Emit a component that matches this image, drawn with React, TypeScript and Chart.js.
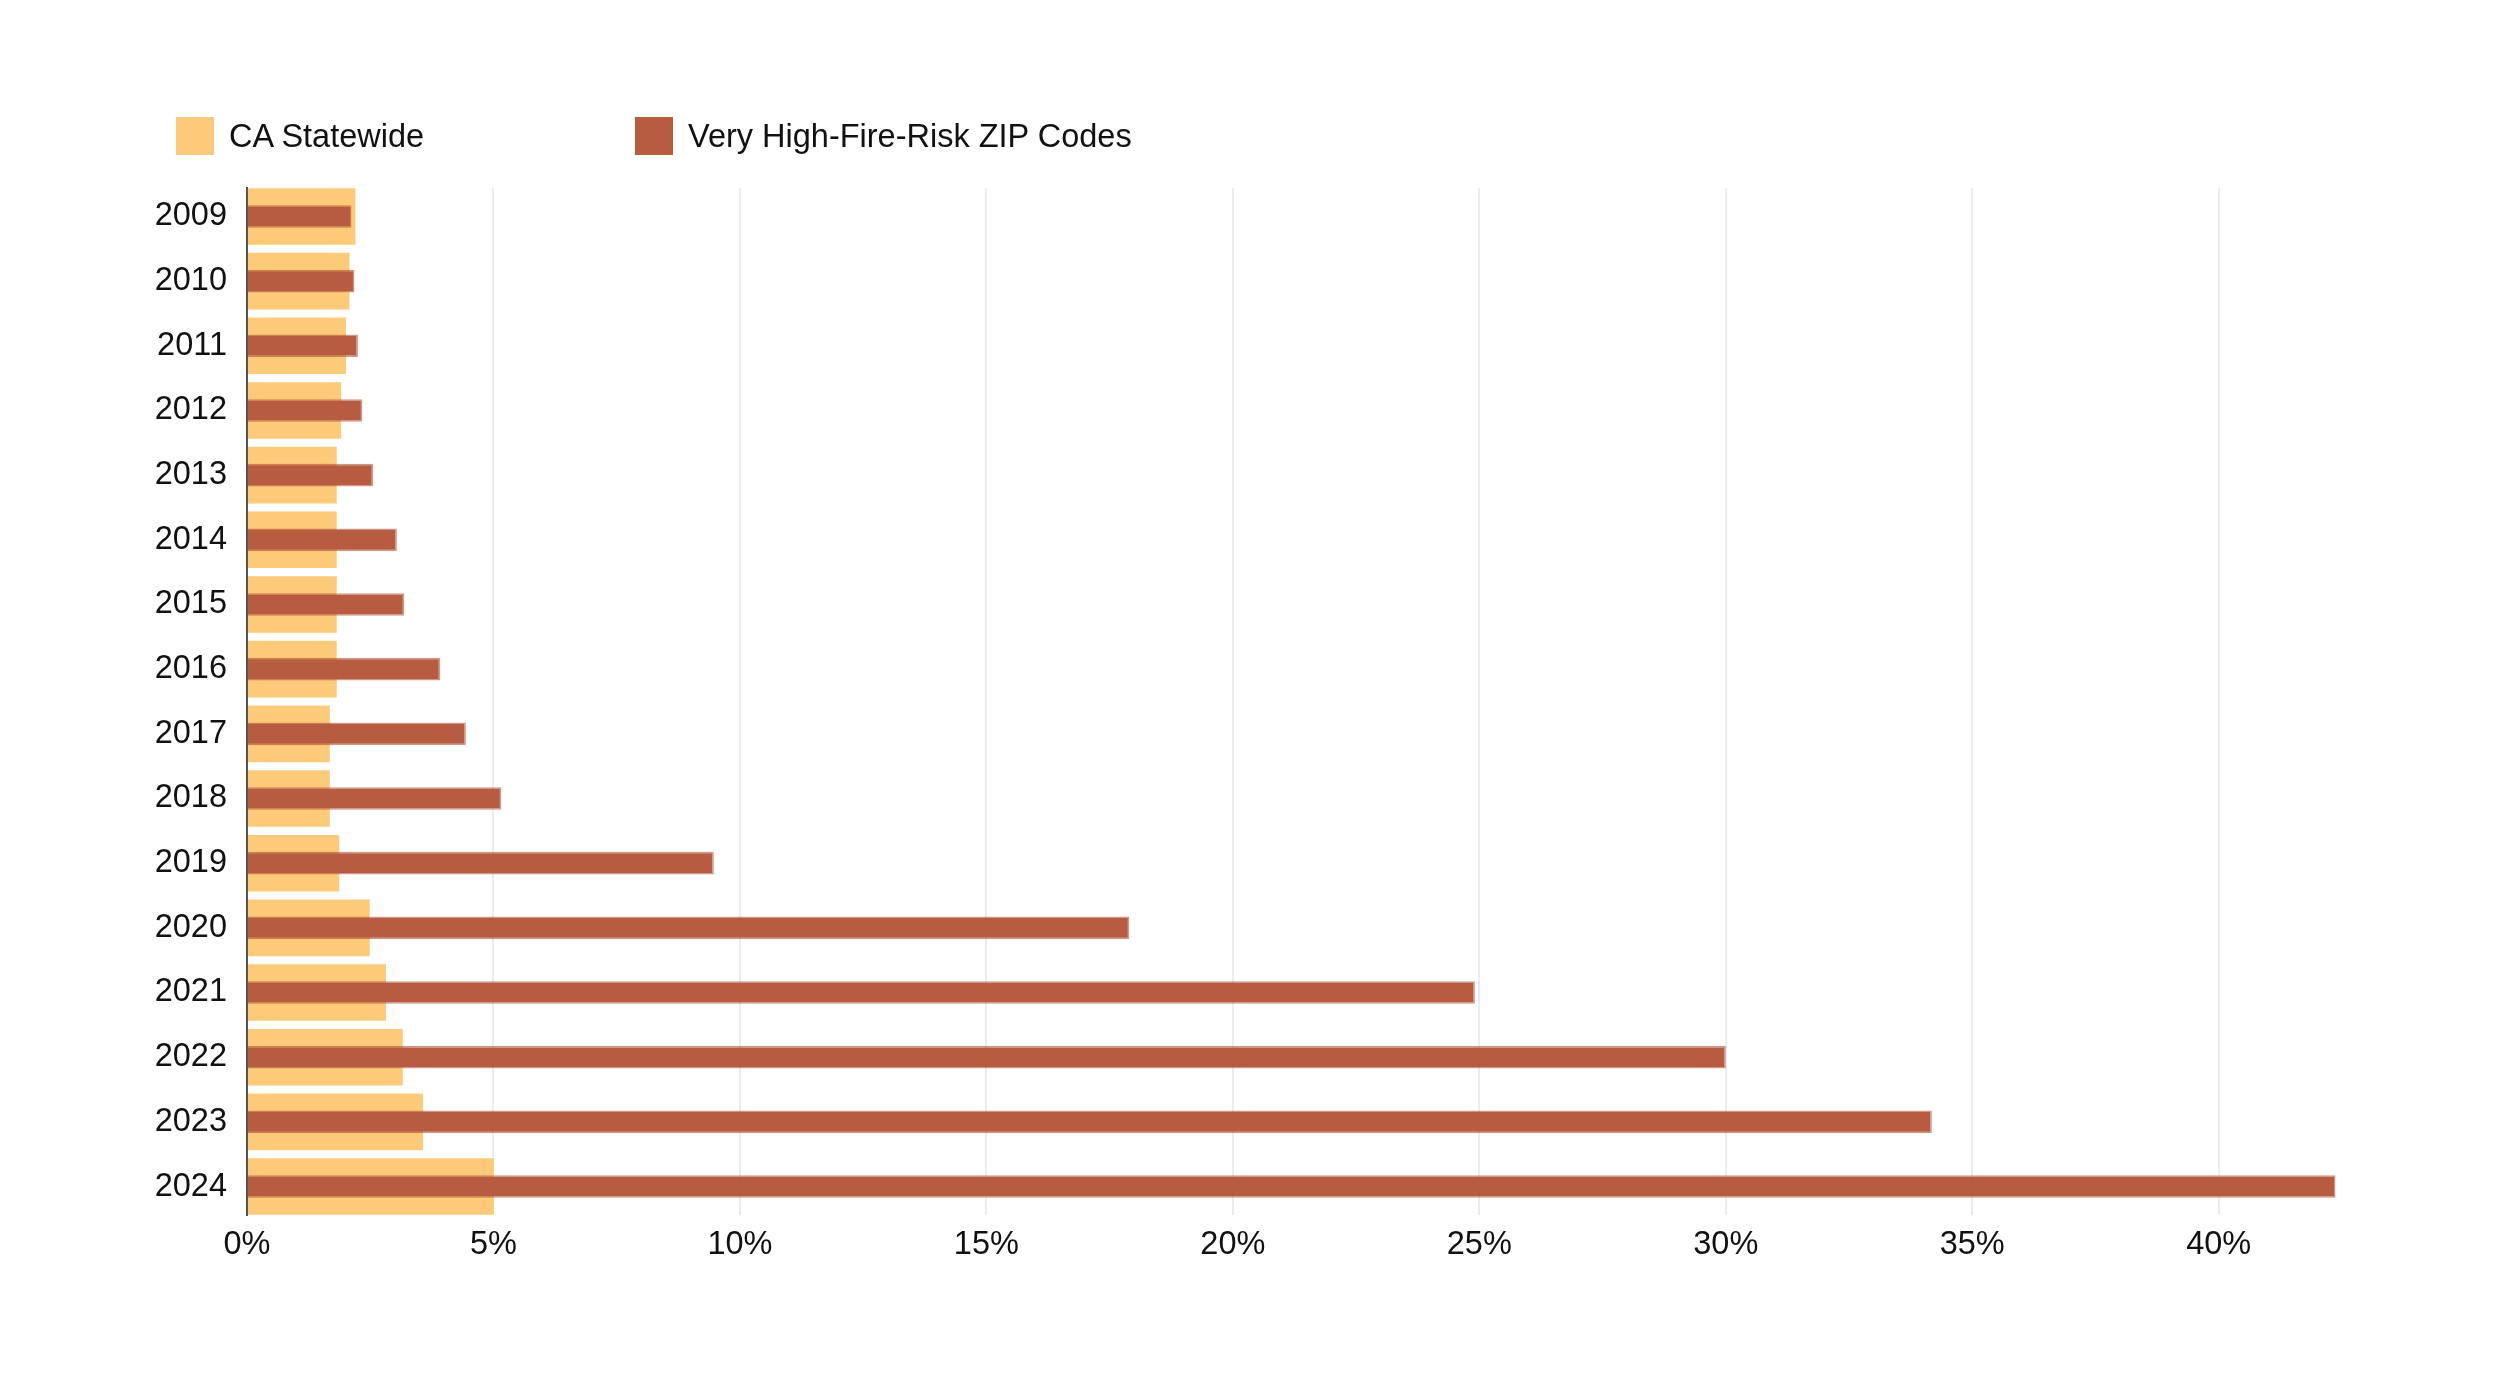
import React, { useEffect, useRef } from "react";
import { Chart, registerables } from "chart.js";

Chart.register(...registerables);

const years = [2009, 2010, 2011, 2012, 2013, 2014, 2015, 2016, 2017, 2018, 2019, 2020, 2021, 2022, 2023, 2024];
const caStatewide = [2.2, 2.08, 2.01, 1.91, 1.82, 1.82, 1.82, 1.82, 1.68, 1.68, 1.87, 2.49, 2.82, 3.16, 3.57, 5.01];
const highFireRisk = [2.12, 2.18, 2.25, 2.34, 2.56, 3.04, 3.19, 3.92, 4.44, 5.16, 9.47, 17.9, 24.91, 30.0, 34.18, 42.37];
const seriesNames = ["CA Statewide", "Very High-Fire-Risk ZIP Codes"];
const xTicks = [0, 5, 10, 15, 20, 25, 30, 35, 40];
const xMax = 42.4;

const YELLOW = "rgb(253, 202, 122)";
const RED = "rgb(183, 92, 65)";
const FONT = "'Liberation Sans', Arial, Helvetica, sans-serif";
const FONT_SIZE = 32.5;

export default function App() {
  const ref = useRef<HTMLCanvasElement | null>(null);

  useEffect(() => {
    if (!ref.current) return;
    const chart = new Chart(ref.current, {
      type: "bar",
      data: {
        labels: years,
        datasets: [
          {
            label: seriesNames[0],
            data: caStatewide,
            backgroundColor: YELLOW,
            borderWidth: 0,
            grouped: false,
            categoryPercentage: 1,
            barPercentage: 0.875,
            order: 2,
          },
          {
            label: seriesNames[1],
            data: highFireRisk,
            backgroundColor: RED,
            borderColor: "rgba(165, 66, 42, 0.55)",
            borderWidth: 1.5,
            grouped: false,
            categoryPercentage: 1,
            barPercentage: 0.35,
            order: 1,
          },
        ],
      },
      options: {
        indexAxis: "y",
        animation: false,
        responsive: true,
        maintainAspectRatio: false,
        layout: { padding: { left: 129, right: 155, top: 180, bottom: 88 } },
        plugins: {
          legend: { display: false },
          tooltip: { enabled: false },
        },
        scales: {
          x: {
            type: "linear",
            min: 0,
            max: xMax,
            bounds: "data",
            grid: { color: "#ececec", lineWidth: 2, drawTicks: false },
            border: { display: false },
            ticks: {
              padding: 11,
              color: "#111",
              font: { family: FONT, size: FONT_SIZE },
              callback: (v: any) => `${v}%`,
            },
            afterBuildTicks: (scale: any) => {
              scale.ticks = xTicks.map((v) => ({ value: v }));
            },
            afterFit: (scale: any) => {
              scale.height = 60;
            },
          },
          y: {
            type: "linear",
            offset: false,
            min: years[0] - 0.44,
            max: years[years.length - 1] + 0.44,
            bounds: "data",
            reverse: true,
            grid: { display: false, drawTicks: false, offset: false },
            border: { display: true, color: "#555", width: 2 },
            ticks: {
              autoSkip: false,
              padding: 20,
              color: "#111",
              font: { family: FONT, size: FONT_SIZE },
              callback: (v: any) => String(v),
            },
            afterBuildTicks: (scale: any) => {
              scale.ticks = years.map((v) => ({ value: v }));
            },
            afterFit: (scale: any) => {
              scale.width = 110;
            },
          },
        },
      },
    });
    return () => chart.destroy();
  }, []);

  const legendItem = (left: number, color: string, text: string) => (
    <div
      style={{
        position: "absolute",
        left,
        top: 109,
        display: "flex",
        alignItems: "center",
        height: 38,
        fontFamily: FONT,
        fontSize: FONT_SIZE,
        lineHeight: "38px",
        color: "#111",
        whiteSpace: "nowrap",
      }}
    >
      <span style={{ display: "inline-block", width: 38, height: 38, background: color, marginRight: 15 }} />
      <span>{text}</span>
    </div>
  );

  return (
    <div style={{ position: "relative", width: 2484, height: 1355, background: "#fff" }}>
      {legendItem(168, YELLOW, seriesNames[0])}
      {legendItem(627, RED, seriesNames[1])}
      <canvas ref={ref} />
    </div>
  );
}
